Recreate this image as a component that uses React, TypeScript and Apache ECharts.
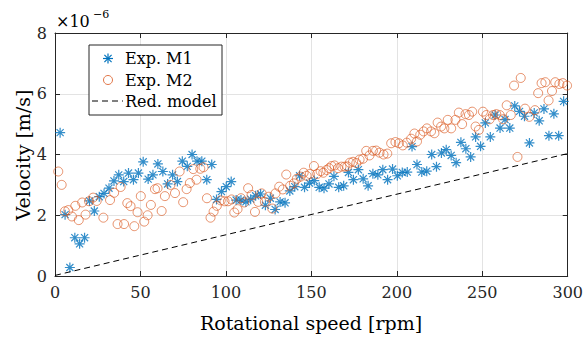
import React, { useEffect, useRef } from "react";
import * as echarts from "echarts";

// Exp. M1 (blue asterisks): rotational speed [rpm] and velocity [x1e-6 m/s]
const M1_X = [3.0, 5.9, 8.7, 11.6, 14.4, 17.3, 20.2, 23.0, 25.9, 28.7,
  31.6, 34.5, 37.3, 40.2, 43.0, 45.9, 48.8, 51.6, 54.5, 57.3,
  60.2, 63.1, 65.9, 68.8, 71.6, 74.5, 77.4, 80.2, 83.1, 85.9,
  88.8, 91.7, 94.5, 97.4, 100.2, 103.1, 106.0, 108.8, 111.7, 114.5,
  117.4, 120.3, 123.1, 126.0, 128.8, 131.7, 134.6, 137.4, 140.3, 143.1,
  146.0, 148.9, 151.7, 154.6, 157.4, 160.3, 163.2, 166.0, 168.9, 171.7,
  174.6, 177.5, 180.3, 183.2, 186.0, 188.9, 191.8, 194.6, 197.5, 200.3,
  203.2, 206.1, 208.9, 211.8, 214.6, 217.5, 220.4, 223.2, 226.1, 228.9,
  231.8, 234.7, 237.5, 240.4, 243.2, 246.1, 249.0, 251.8, 254.7, 257.5,
  260.4, 263.3, 266.1, 269.0, 271.8, 274.7, 277.6, 280.4, 283.3, 286.1,
  289.0, 291.9, 294.7, 297.6];
const M1_Y = [4.72, 2.02, 0.28, 1.26, 1.06, 1.26, 2.47, 2.14, 2.61, 2.72,
  2.89, 3.13, 3.33, 3.11, 3.39, 3.17, 3.39, 3.76, 3.19, 3.33,
  3.69, 3.44, 3.03, 3.33, 3.11, 3.78, 3.61, 4.0, 3.78, 3.78,
  3.17, 3.67, 2.52, 2.78, 2.94, 3.11, 2.5, 2.5, 2.44, 2.53,
  2.64, 2.7, 2.33, 2.56, 2.19, 2.44, 2.41, 2.8, 2.94, 3.3,
  2.92, 3.06, 3.14, 2.92, 2.89, 3.03, 3.28, 2.92, 2.97, 3.41,
  3.17, 3.5, 3.2, 2.97, 3.37, 3.33, 3.5, 3.17, 3.52, 3.3,
  3.41, 3.42, 4.26, 3.67, 3.42, 3.45, 4.0, 3.6, 4.05, 4.16,
  3.97, 3.73, 4.4, 4.19, 3.92, 4.58, 4.27, 5.04, 4.58, 5.3,
  4.87, 5.15, 4.87, 5.6, 5.42, 5.26, 4.38, 5.37, 5.11, 5.5,
  4.62, 5.34, 4.62, 5.75];

// Exp. M2 (orange circles)
const M2_X = [1.9, 3.9, 5.8, 7.8, 9.9, 11.9, 13.9, 15.9, 17.9, 19.9,
  22.3, 24.4, 28.3, 32.2, 34.6, 36.6, 38.4, 40.4, 42.3, 44.2,
  46.4, 48.3, 50.2, 52.2, 54.2, 56.1, 58.5, 60.0, 62.4, 64.3,
  67.6, 70.2, 72.9, 75.0, 77.0, 78.9, 80.9, 82.8, 85.0, 86.9,
  88.9, 91.0, 92.8, 94.7, 97.0, 99.2, 101.2, 103.3, 104.9, 106.8,
  108.8, 110.7, 113.0, 115.0, 117.0, 118.9, 120.9, 122.8, 125.1, 127.1,
  129.0, 131.2, 133.3, 135.3, 137.6, 139.8, 141.5, 143.7, 145.5, 147.2,
  149.1, 151.5, 153.4, 155.4, 157.0, 158.9, 160.4, 161.8, 163.6, 165.6,
  167.6, 169.5, 171.0, 172.5, 174.4, 176.3, 178.2, 180.2, 182.1, 184.0,
  186.0, 187.9, 189.9, 192.2, 194.4, 196.7, 199.2, 201.2, 203.5, 205.8,
  208.4, 210.3, 211.8, 213.7, 215.7, 217.6, 220.0, 222.0, 223.9, 225.9,
  227.8, 229.8, 231.8, 234.3, 236.3, 238.2, 240.2, 242.2, 244.1, 246.1,
  248.0, 250.4, 252.4, 254.3, 256.3, 258.2, 260.2, 262.2, 264.3, 266.7,
  268.6, 270.6, 272.5, 275.0, 277.5, 280.8, 282.7, 284.7, 286.9, 288.8,
  290.8, 292.7, 295.1, 297.1, 299.6];
const M2_Y = [3.44, 3.0, 2.13, 2.17, 1.96, 2.31, 1.84, 2.42, 2.02, 2.46,
  2.58, 2.47, 1.92, 2.5, 2.74, 1.71, 2.93, 1.71, 2.4, 2.3,
  1.64, 2.1, 2.63, 1.79, 2.0, 2.34, 2.86, 2.89, 2.14, 2.63,
  3.0, 2.73, 3.44, 2.43, 2.86, 3.06, 3.52, 3.17, 3.53, 3.58,
  2.56, 1.92, 2.12, 2.31, 2.49, 2.46, 2.46, 2.52, 2.09, 2.2,
  2.56, 2.42, 2.89, 2.67, 2.11, 2.44, 2.72, 2.44, 2.61, 2.22,
  2.72, 2.94, 2.85, 3.34, 2.97, 3.05, 3.2, 3.27, 3.4, 3.3,
  3.36, 3.62, 3.36, 3.45, 3.4, 3.49, 3.55, 3.62, 3.64, 3.55,
  3.6, 3.6, 3.61, 3.73, 3.76, 3.72, 3.83, 3.86, 4.12, 3.97,
  4.12, 4.13, 4.06, 4.0, 4.03, 4.37, 4.41, 4.37, 4.3, 4.39,
  4.52, 4.69, 4.43, 4.65, 4.76, 4.86, 4.76, 4.7, 5.05, 4.92,
  4.86, 5.14, 4.86, 5.14, 5.38, 5.0, 5.33, 5.3, 5.41, 4.92,
  4.81, 5.41, 5.3, 5.16, 5.3, 5.33, 5.3, 5.16, 5.62, 5.3,
  6.27, 3.92, 6.52, 5.51, 5.24, 5.46, 6.02, 6.35, 6.38, 5.78,
  6.09, 6.38, 6.32, 6.35, 6.27];

// Reduced model (dashed line)
const MODEL_X = [0, 300];
const MODEL_Y = [0.02, 4.03];

const SERIES_NAMES = ["Exp. M1", "Exp. M2", "Red. model"];
const X_TITLE = "Rotational speed [rpm]";
const Y_TITLE = "Velocity [m/s]";
const EXP_BASE = "\u00d710";
const EXP_POW = "\u22126";

const BLUE = "#0072BD";
const ORANGE = "#D95319";
const AXIS = "#262626";
const FONT = "DejaVu Serif";
const STAR = "path://M5,0L5,10M0,5L10,5M1.46,1.46L8.54,8.54M1.46,8.54L8.54,1.46";

const zip = (xs: number[], ys: number[]) => xs.map((x, i) => [x, ys[i]]);

export default function App() {
  const ref = useRef<HTMLDivElement>(null);
  useEffect(() => {
    document.body.style.margin = "0";
    const chart = echarts.init(ref.current!, null, { renderer: "svg" });
    const axisBase = {
      type: "value",
      axisLine: { show: true, onZero: false, lineStyle: { color: AXIS, width: 1 } },
      axisTick: { show: true, inside: true, length: 5, lineStyle: { color: AXIS, width: 1 } },
    };
    const txt = (x: number, y: number, text: string, size: number, extra: any = {}) => ({
      type: "text",
      x,
      y,
      z: 100,
      ...extra,
      style: {
        text,
        font: `${size}px "${FONT}"`,
        fill: "#000",
        textAlign: extra.align || "left",
        align: extra.align || "left",
        textVerticalAlign: "middle",
        verticalAlign: "middle",
      },
    });
    const sx = 108, sy = 58.5, r = 5, d = 3.6;
    chart.setOption({
      animation: false,
      grid: { left: 55, top: 33, right: 18, bottom: 61 },
      xAxis: [
        {
          ...axisBase,
          min: 0, max: 300, interval: 50, position: "bottom",
          axisLabel: { color: AXIS, fontFamily: FONT, fontSize: 16, margin: 8 },
          splitLine: { show: true, lineStyle: { color: "#e3e3e3", width: 1 } },
        },
        {
          ...axisBase,
          min: 0, max: 300, interval: 50, position: "top",
          axisLabel: { show: false },
          splitLine: { show: false },
        },
      ],
      yAxis: [
        {
          ...axisBase,
          min: 0, max: 8, interval: 2, position: "left",
          axisLabel: { color: AXIS, fontFamily: FONT, fontSize: 16, margin: 8 },
          splitLine: { show: true, lineStyle: { color: "#e3e3e3", width: 1 } },
        },
        {
          ...axisBase,
          min: 0, max: 8, interval: 2, position: "right",
          axisLabel: { show: false },
          splitLine: { show: false },
        },
      ],
      series: [
        {
          name: SERIES_NAMES[0],
          type: "scatter",
          data: zip(M1_X, M1_Y),
          symbol: STAR,
          symbolSize: 10,
          itemStyle: { color: "transparent", borderColor: BLUE, borderWidth: 1.2 },
          z: 2,
        },
        {
          name: SERIES_NAMES[1],
          type: "scatter",
          data: zip(M2_X, M2_Y),
          symbol: "circle",
          symbolSize: 9,
          itemStyle: { color: "transparent", borderColor: ORANGE, borderWidth: 0.8 },
          z: 3,
        },
        {
          name: SERIES_NAMES[2],
          type: "line",
          data: zip(MODEL_X, MODEL_Y),
          symbol: "none",
          lineStyle: { color: "#000", width: 1, type: [6, 4] },
          z: 4,
        },
      ],
      graphic: [
        txt(56, 21, EXP_BASE, 16),
        txt(93, 14, EXP_POW, 11),
        txt(311, 323, X_TITLE, 19, { align: "center" }),
        txt(23, 155, Y_TITLE, 19, { align: "center", rotation: Math.PI / 2 }),
        {
          type: "rect",
          z: 99,
          shape: { x: 89, y: 45, width: 133, height: 70 },
          style: { fill: "#fff", stroke: AXIS, lineWidth: 1 },
        },
        { type: "line", z: 100, shape: { x1: sx - r, y1: sy, x2: sx + r, y2: sy }, style: { stroke: BLUE, lineWidth: 1.2 } },
        { type: "line", z: 100, shape: { x1: sx, y1: sy - r, x2: sx, y2: sy + r }, style: { stroke: BLUE, lineWidth: 1.2 } },
        { type: "line", z: 100, shape: { x1: sx - d, y1: sy - d, x2: sx + d, y2: sy + d }, style: { stroke: BLUE, lineWidth: 1.2 } },
        { type: "line", z: 100, shape: { x1: sx - d, y1: sy + d, x2: sx + d, y2: sy - d }, style: { stroke: BLUE, lineWidth: 1.2 } },
        { type: "circle", z: 100, shape: { cx: 108, cy: 80, r: 4.5 }, style: { fill: "none", stroke: ORANGE, lineWidth: 0.8 } },
        { type: "line", z: 100, shape: { x1: 92, y1: 101, x2: 123, y2: 101 }, style: { stroke: "#000", lineWidth: 1, lineDash: [6, 4] } },
        txt(125, 58, SERIES_NAMES[0], 16),
        txt(125, 80, SERIES_NAMES[1], 16),
        txt(125, 101, SERIES_NAMES[2], 16),
      ],
    });
    return () => chart.dispose();
  }, []);
  return <div ref={ref} style={{ width: 586, height: 337 }} />;
}
